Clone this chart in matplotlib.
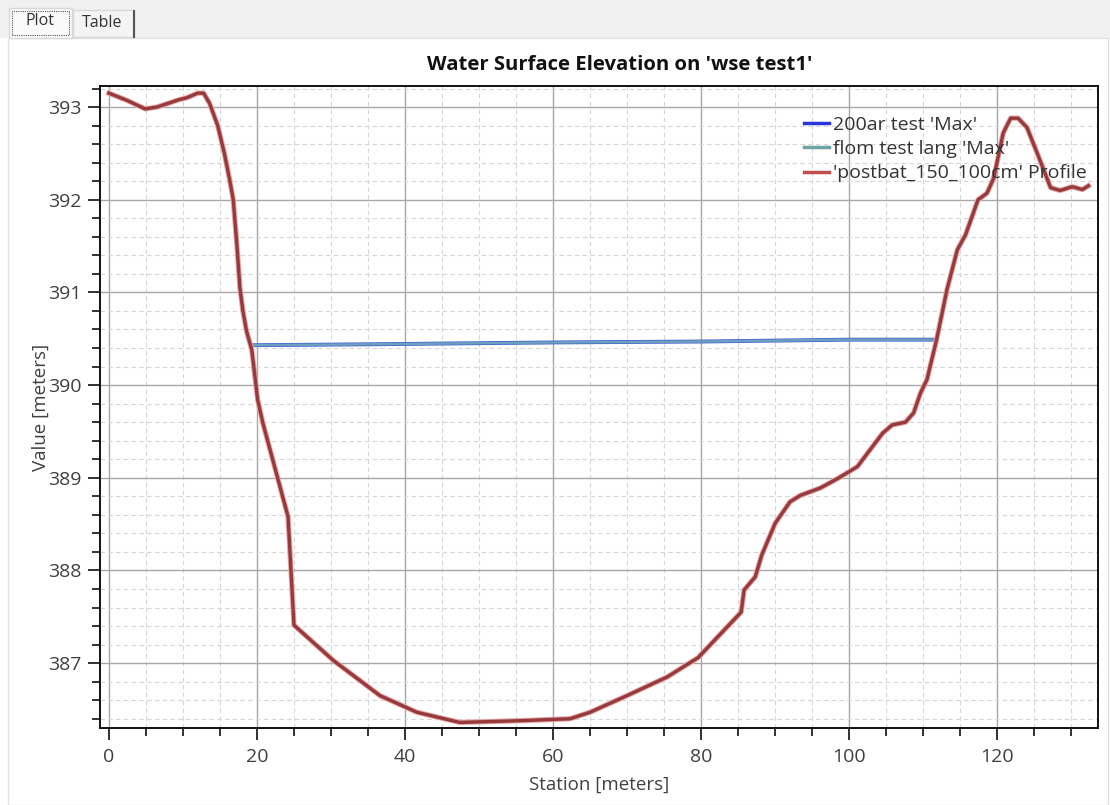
import matplotlib
matplotlib.use("Agg")
import matplotlib.pyplot as plt
import matplotlib.patheffects as pe
from matplotlib.patches import Rectangle
from matplotlib.lines import Line2D
from matplotlib.ticker import MultipleLocator

plt.rcParams["font.family"] = ["Open Sans", "DejaVu Sans"]

# ------------------------------------------------------------------ #
#  Data                                                                #
# ------------------------------------------------------------------ #

# ground profile along the cross section
station = [0.0, 2.5, 4.9, 6.5, 8.0, 9.5, 10.5, 12.0, 12.8, 13.6, 14.7, 15.6,
           16.3, 16.8, 17.3, 17.7, 18.1, 18.6, 19.3, 20.1, 20.8, 24.2, 25.0,
           30.3, 36.6, 41.6, 47.4, 56.0, 62.3, 65.0, 70.0, 75.4, 79.6, 85.4,
           85.8, 87.3, 88.2, 90.0, 92.0, 93.4, 96.1, 98.4, 101.1, 104.5,
           105.8, 107.6, 108.7, 109.6, 110.5, 111.8, 113.2, 114.6, 115.7,
           117.4, 118.6, 119.5, 120.8, 121.8, 122.8, 124.0, 125.4, 127.2,
           128.5, 130.1, 131.5, 132.3]
elevation = [393.15, 393.07, 392.98, 393.00, 393.04, 393.08, 393.10, 393.15,
             393.15, 393.04, 392.80, 392.50, 392.22, 392.00, 391.50, 391.05,
             390.80, 390.58, 390.38, 389.84, 389.59, 388.58, 387.41, 387.03,
             386.65, 386.47, 386.36, 386.38, 386.40, 386.47, 386.65, 386.85,
             387.06, 387.55, 387.79, 387.93, 388.17, 388.51, 388.74, 388.81,
             388.89, 388.99, 389.12, 389.48, 389.57, 389.60, 389.70, 389.91,
             390.06, 390.49, 391.03, 391.46, 391.62, 392.00, 392.07, 392.23,
             392.72, 392.88, 392.88, 392.78, 392.50, 392.13, 392.10, 392.14,
             392.11, 392.15]

# max water surface for both plans
wse_station = [19.3, 35.0, 60.0, 80.0, 100.0, 111.6]
wse_200ar = [390.43, 390.44, 390.46, 390.47, 390.49, 390.49]
wse_flom = [390.43, 390.44, 390.46, 390.47, 390.49, 390.49]

labels = ["200ar test 'Max'", "flom test lang 'Max'",
          "'postbat_150_100cm' Profile"]

# ------------------------------------------------------------------ #
#  Figure                                                              #
# ------------------------------------------------------------------ #

W, H = 1110, 805
fig = plt.figure(figsize=(W / 100, H / 100), dpi=100)
fig.patch.set_facecolor("white")


def fx(px):
    return px / W


def fy(py):
    return 1 - py / H


# tab strip and panel frame
fig.patches.append(Rectangle((0, fy(38)), 1, 38 / H, transform=fig.transFigure,
                             facecolor="#f0f0f0", edgecolor="none", zorder=-3))
fig.patches.append(Rectangle((fx(8), 0), fx(1100), fy(38), transform=fig.transFigure,
                             facecolor="white", edgecolor="#e2e2e2", lw=1, zorder=-3))
fig.patches.append(Rectangle((fx(9), fy(38)), fx(63), 30 / H, transform=fig.transFigure,
                             facecolor="#fafafa", edgecolor="#d8d8d8", lw=1, zorder=-2))
fig.patches.append(Rectangle((fx(12), fy(35)), fx(57), 24 / H, transform=fig.transFigure,
                             facecolor="none", edgecolor="#555555", lw=0.8,
                             linestyle=(0, (1, 1)), zorder=-1))
fig.patches.append(Rectangle((fx(73), fy(37)), fx(61), 27 / H, transform=fig.transFigure,
                             facecolor="#f4f4f4", edgecolor="#d8d8d8", lw=1, zorder=-2))
fig.lines.append(Line2D([fx(134), fx(134)], [fy(37), fy(11)], transform=fig.transFigure,
                        color="#555555", lw=1.5))
fig.text(fx(40), fy(21), "Plot", ha="center", va="center", fontsize=11.5, color="#333333")
fig.text(fx(102), fy(23), "Table", ha="center", va="center", fontsize=11.5, color="#333333")

fig.text(fx(620), fy(65), "Water Surface Elevation on 'wse test1'", ha="center",
         va="center", fontsize=14.6, fontweight="bold", color="#111111")

ax = fig.add_axes([fx(100), fy(728), fx(998), 642 / H])
ax.set_zorder(2)

ax.plot(wse_station, wse_200ar, color="#3a5fd0", lw=2.8, label=labels[0], zorder=3)
ax.plot(wse_station, wse_flom, color="#6f9fc0", lw=1.8, label=labels[1], zorder=4)
ax.plot(station, elevation, color="#963a3b", lw=2.4, label=labels[2], zorder=5,
        path_effects=[pe.Stroke(linewidth=3.8, foreground="#e6a3a3"), pe.Normal()])

ax.set_xlim(-1.2, 133.6)
ax.set_ylim(386.30, 393.227)
ax.xaxis.set_major_locator(MultipleLocator(20))
ax.xaxis.set_minor_locator(MultipleLocator(5))
ax.yaxis.set_major_locator(MultipleLocator(1))
ax.yaxis.set_minor_locator(MultipleLocator(0.2))

ax.grid(which="major", color="#a8a8a8", lw=1.0)
ax.grid(which="minor", color="#d6d6d6", lw=0.8, linestyle=(0, (4, 3)))
ax.set_axisbelow(True)

for s in ax.spines.values():
    s.set_color("#111111")
    s.set_linewidth(1.4)

ax.tick_params(which="major", length=8.5, width=1.3, color="#222222",
               labelsize=14, labelcolor="#404040")
ax.tick_params(which="minor", length=5.5, width=1.3, color="#222222")
ax.tick_params(axis="x", which="major", pad=6)
ax.tick_params(axis="y", which="major", pad=5)

ax.set_xlabel("Station [meters]", fontsize=13.5, color="#404040")
ax.set_ylabel("Value [meters]", fontsize=13.5, color="#404040")
ax.xaxis.set_label_coords(0.5, -0.074)
ax.yaxis.set_label_coords(-0.05, 0.5)

handles = [Line2D([], [], color="#2a36d8", lw=2.5),
           Line2D([], [], color="#6fa3a3", lw=2.5),
           Line2D([], [], color="#c0504d", lw=2.5)]
ax.legend(handles, labels, loc="upper left", bbox_to_anchor=(fx(804), fy(116)),
          bbox_transform=fig.transFigure, frameon=False, fontsize=14,
          borderpad=0, borderaxespad=0, handlelength=1.3, handletextpad=0.2,
          labelspacing=0.32, labelcolor="#333333")

plt.savefig("out.png", dpi=100)
